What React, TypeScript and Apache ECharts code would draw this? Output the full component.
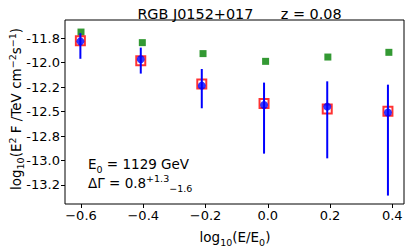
import React, { useEffect, useRef } from "react";
import * as echarts from "echarts";

const xBlue = [-0.602, -0.408, -0.212, -0.012, 0.191, 0.386];
const blueVals = [-11.784, -11.967, -12.236, -12.434, -12.45, -12.511];
const errLow = [-11.962, -12.113, -12.467, -12.93, -12.978, -13.358];
const errHigh = [-11.7, -11.848, -12.066, -12.205, -12.192, -12.226];
const redVals = [-11.777, -11.981, -12.219, -12.419, -12.474, -12.498];
const xGreen = [-0.6, -0.403, -0.208, -0.007, 0.193, 0.389];
const greenVals = [-11.689, -11.797, -11.909, -11.988, -11.944, -11.896];

const xTicks = [-0.6, -0.4, -0.2, 0.0, 0.2, 0.4];
const xTickLabels = ["\u22120.6", "\u22120.4", "\u22120.2", "0.0", "0.2", "0.4"];
const yTicks = [-11.75, -12.0, -12.25, -12.5, -12.75, -13.0, -13.25];
const yTickLabels = ["-11.8", "-12.0", "-12.2", "-12.5", "-12.8", "-13.0", "-13.2"];

const FONT = "DejaVu Sans";
const NB = "\u00a0";

export default function App() {
  const ref = useRef<HTMLDivElement>(null);
  useEffect(() => {
    if (!ref.current) return;
    const chart = echarts.init(ref.current, null, { renderer: "svg" });
    const labelFor = (ticks: number[], labels: string[]) => (v: number) => {
      for (let i = 0; i < ticks.length; i++) {
        if (Math.abs(ticks[i] - v) < 1e-6) return labels[i];
      }
      return "";
    };
    const rich = {
      n: { fontFamily: FONT, fontSize: 13.5, lineHeight: 20, color: "#000" },
      sub: { fontFamily: FONT, fontSize: 9.5, lineHeight: 20, verticalAlign: "bottom", color: "#000" },
      sup: { fontFamily: FONT, fontSize: 9.5, lineHeight: 20, verticalAlign: "top", color: "#000" },
    };
    const richY = {
      n: { fontFamily: FONT, fontSize: 13.5, lineHeight: 18, color: "#000" },
      sub: { fontFamily: FONT, fontSize: 9.5, lineHeight: 18, verticalAlign: "bottom", color: "#000" },
      sup: { fontFamily: FONT, fontSize: 9.5, lineHeight: 18, verticalAlign: "top", color: "#000" },
    };
    chart.setOption({
      animation: false,
      backgroundColor: "#fff",
      grid: {
        left: 65,
        right: 11,
        top: 20,
        bottom: 43,
        show: true,
        borderColor: "#000",
        borderWidth: 1,
        backgroundColor: "transparent",
      },
      title: {
        text: "RGB J0152+017" + NB.repeat(6) + "z = 0.08",
        left: 234.5,
        textAlign: "center",
        top: 2,
        textStyle: { fontFamily: FONT, fontSize: 14.4, fontWeight: "normal", color: "#000" },
      },
      xAxis: {
        type: "value",
        min: -0.6514,
        max: 0.4376,
        axisLine: { show: false, onZero: false },
        splitLine: { show: false },
        axisTick: {
          show: true,
          customValues: xTicks,
          length: 4,
          lineStyle: { color: "#000" },
        },
        axisLabel: {
          customValues: xTicks,
          formatter: labelFor(xTicks, xTickLabels),
          fontFamily: FONT,
          fontSize: 13,
          color: "#000",
          margin: 5,
        },
      },
      yAxis: {
        type: "value",
        min: -13.444,
        max: -11.566,
        axisLine: { show: false, onZero: false },
        splitLine: { show: false },
        axisTick: {
          show: true,
          customValues: yTicks,
          length: 4,
          lineStyle: { color: "#000" },
        },
        axisLabel: {
          customValues: yTicks,
          formatter: labelFor(yTicks, yTickLabels),
          fontFamily: FONT,
          fontSize: 13,
          color: "#000",
          margin: 5,
        },
      },
      graphic: [
        {
          type: "text",
          x: 16,
          y: 109,
          rotation: Math.PI / 2,
          style: {
            text: "{n|log}{sub|10}{n|(E}{sup|2}{n| F /TeV cm}{sup|\u22122}{n|s}{sup|\u22121}{n|)}",
            rich: richY,
            align: "center",
            verticalAlign: "middle",
          },
        },
        {
          type: "text",
          x: 235,
          y: 237,
          style: {
            text: "{n|log}{sub|10}{n|(E/E}{sub|0}{n|)}",
            rich,
            align: "center",
            verticalAlign: "middle",
          },
        },
        {
          type: "text",
          x: 88,
          y: 164,
          style: {
            text: "{n|E}{sub|0}{n| = 1129 GeV}",
            rich,
            align: "left",
            verticalAlign: "middle",
          },
        },
        {
          type: "text",
          x: 88,
          y: 183,
          style: {
            text: "{n|\u0394\u0393 = 0.8}{sup|+1.3}{sub|\u22121.6}",
            rich,
            align: "left",
            verticalAlign: "middle",
          },
        },
      ],
      series: [
        {
          type: "scatter",
          data: xGreen.map((x, i) => [x, greenVals[i]]),
          symbol: "rect",
          symbolSize: 7,
          itemStyle: { color: "#008000" },
          z: 2,
        },
        {
          type: "scatter",
          data: xBlue.map((x, i) => [x, redVals[i]]),
          symbol: "rect",
          symbolSize: 9,
          itemStyle: { color: "#fff", borderColor: "#ff0000", borderWidth: 2 },
          z: 3,
        },
        {
          type: "custom",
          data: xBlue.map((x, i) => [x, errLow[i], errHigh[i]]),
          encode: { x: 0, y: [1, 2] },
          renderItem: (params: any, api: any) => {
            const p1 = api.coord([api.value(0), api.value(1)]);
            const p2 = api.coord([api.value(0), api.value(2)]);
            return {
              type: "line",
              shape: { x1: p1[0], y1: p1[1], x2: p2[0], y2: p2[1] },
              style: { stroke: "#0000ff", lineWidth: 2 },
            };
          },
          z: 4,
        },
        {
          type: "scatter",
          data: xBlue.map((x, i) => [x, blueVals[i]]),
          symbol: "circle",
          symbolSize: 8,
          itemStyle: { color: "#0000ff" },
          z: 5,
        },
      ],
    });
    return () => chart.dispose();
  }, []);
  return (
    <div
      ref={ref}
      style={{ position: "fixed", left: 0, top: 0, width: 415, height: 247 }}
    />
  );
}
